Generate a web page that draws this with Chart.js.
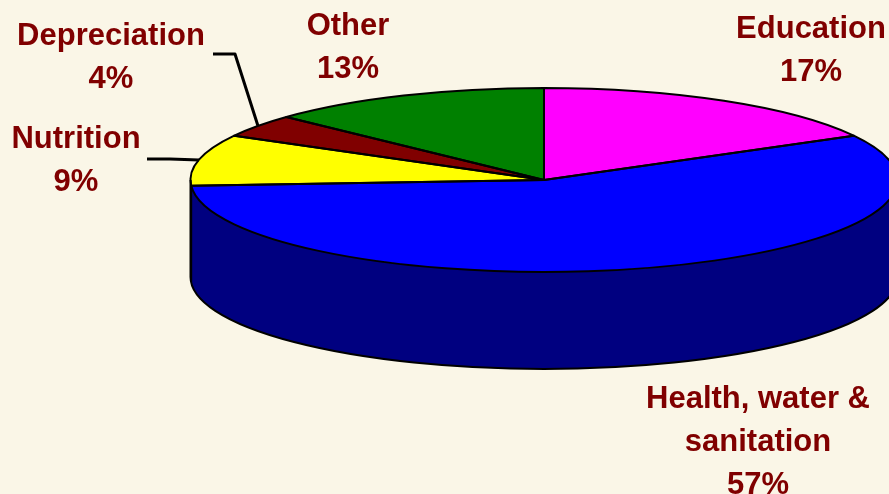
<!DOCTYPE html>
<html>
<head>
<meta charset="utf-8">
<script src="https://cdn.jsdelivr.net/npm/chart.js@4/dist/chart.umd.min.js"></script>
<style>
  html, body { margin: 0; padding: 0; background: #faf6e7; }
  #wrap { width: 889px; height: 494px; position: relative; }
</style>
</head>
<body>
<div id="wrap"><canvas id="pieChart"></canvas></div>
<script>
// spending shares (%)
const categories = ['Education', 'Health, water & sanitation', 'Nutrition', 'Depreciation', 'Other'];
const shares = [17, 57, 9, 4, 13];
// label lines, wrapped like on the slide
const labelLines = [['Education'], ['Health, water &', 'sanitation'], ['Nutrition'], ['Depreciation'], ['Other']];

const topColors = ['#ff00ff', '#0000ff', '#ffff00', '#800000', '#008000'];
const sideColors = ['#800080', '#000080', '#808000', '#400000', '#004000'];

// where the tilted disc sits on the page
const disc = { cx: 544, cy: 180, rx: 353.5, ry: 92, depth: 97 };
const labelPos = [[811, 38], [758, 408], [76, 148], [111, 45], [348, 35]];
const lineGap = 43;
// elbow points of the leader lines (index -> points), end is the slice rim
const leaders = { 3: [[213, 54], [235, 54]], 2: [[147, 159], [170, 159]] };

function rimPoint(angle) {
    return [disc.cx + disc.rx * Math.cos(angle), disc.cy + disc.ry * Math.sin(angle)];
}

const tilt3d = {
    id: 'tilt3d',
    beforeDatasetsDraw(chart) {
        const ctx = chart.ctx;
        const arcs = chart.getDatasetMeta(0).data;
        const { cx, cy, rx, ry, depth } = disc;
        // side wall, only the front half shows
        arcs.forEach((arc, i) => {
            const a1 = Math.max(arc.startAngle, 0);
            const a2 = Math.min(arc.endAngle, Math.PI);
            if (a2 <= a1) return;
            ctx.beginPath();
            ctx.ellipse(cx, cy, rx, ry, 0, a1, a2);
            ctx.ellipse(cx, cy + depth, rx, ry, 0, a2, a1, true);
            ctx.closePath();
            ctx.fillStyle = sideColors[i];
            ctx.fill();
        });
        // squash the real pie into the top face
        const r = arcs[0].outerRadius;
        ctx.save();
        ctx.translate(cx, cy);
        ctx.scale(rx / r, ry / r);
        ctx.translate(-arcs[0].x, -arcs[0].y);
    },
    afterDatasetsDraw(chart) {
        const ctx = chart.ctx;
        ctx.restore();
        const arcs = chart.getDatasetMeta(0).data;
        const { cx, cy, rx, ry, depth } = disc;
        ctx.save();
        ctx.strokeStyle = '#000';
        ctx.lineWidth = 2;
        ctx.lineJoin = 'round';
        // side outline
        ctx.beginPath();
        ctx.moveTo(cx + rx, cy);
        ctx.ellipse(cx, cy + depth, rx, ry, 0, 0, Math.PI);
        ctx.lineTo(cx - rx, cy);
        arcs.forEach(arc => {
            if (arc.endAngle > 0 && arc.endAngle < Math.PI) {
                const [x, y] = rimPoint(arc.endAngle);
                ctx.moveTo(x, y);
                ctx.lineTo(x, y + depth);
            }
        });
        ctx.stroke();
        // top face outline
        arcs.forEach(arc => {
            ctx.beginPath();
            ctx.moveTo(cx, cy);
            ctx.ellipse(cx, cy, rx, ry, 0, arc.startAngle, arc.endAngle);
            ctx.closePath();
            ctx.stroke();
        });
        // leader lines
        ctx.lineWidth = 3;
        Object.keys(leaders).forEach(k => {
            const arc = arcs[k];
            const end = rimPoint((arc.startAngle + arc.endAngle) / 2);
            const pts = leaders[k].concat([end]);
            ctx.beginPath();
            ctx.moveTo(pts[0][0], pts[0][1]);
            pts.slice(1).forEach(p => ctx.lineTo(p[0], p[1]));
            ctx.stroke();
        });
        ctx.restore();
    },
    afterDraw(chart) {
        const ctx = chart.ctx;
        ctx.save();
        ctx.fillStyle = '#800000';
        ctx.font = 'bold 31px "Liberation Sans", Arial, sans-serif';
        ctx.textAlign = 'center';
        ctx.textBaseline = 'alphabetic';
        labelLines.forEach((lines, i) => {
            const [x, y] = labelPos[i];
            const all = lines.concat([shares[i] + '%']);
            all.forEach((t, j) => ctx.fillText(t, x, y + j * lineGap));
        });
        ctx.restore();
    }
};

const pieCtx = document.getElementById('pieChart').getContext('2d');
const pieConfig = {
    type: 'pie',
    data: {
        labels: categories,
        datasets: [{
            data: shares,
            backgroundColor: topColors,
            borderWidth: 0
        }]
    },
    options: {
        responsive: true,
        maintainAspectRatio: false,
        animation: false,
        events: [],
        layout: { padding: 0 },
        plugins: {
            legend: { display: false },
            tooltip: { enabled: false }
        }
    },
    plugins: [tilt3d]
};
const pieChart = new Chart(pieCtx, pieConfig);
</script>
</body>
</html>
